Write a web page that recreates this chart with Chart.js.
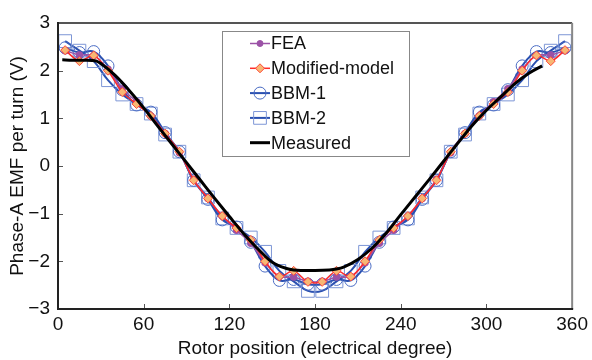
<!DOCTYPE html>
<html lang="en">
<head>
<meta charset="UTF-8">
<title>Phase-A EMF per turn</title>
<style>
  html, body { margin: 0; padding: 0; background: #fff; }
  #wrap { width: 592px; height: 360px; }
</style>
</head>
<body>
<div id="wrap"><canvas id="myChart" width="592" height="360"></canvas></div>

<script src="https://cdn.jsdelivr.net/npm/chart.js@4.4.0/dist/chart.umd.min.js"></script>
<script>
// rotor positions where the model markers sit (electrical degree)
var angles = [5, 15, 25, 35, 45, 55, 65, 75, 85,
              95, 105, 115, 125, 135, 145, 155, 165, 175,
              185, 195, 205, 215, 225, 235, 245, 255, 265,
              275, 285, 295, 305, 315, 325, 335, 345, 355];

var fea = [2.42, 2.33, 2.32, 2.03, 1.62, 1.35, 1.05, 0.68, 0.28,
           -0.28, -0.68, -1.05, -1.35, -1.62, -2.03, -2.32, -2.33, -2.42,
           -2.42, -2.33, -2.32, -2.03, -1.62, -1.35, -1.05, -0.68, -0.28,
           0.28, 0.68, 1.05, 1.35, 1.62, 2.03, 2.32, 2.33, 2.42];

var modified = [2.43, 2.2, 2.32, 2.0, 1.55, 1.3, 1.05, 0.68, 0.3,
                -0.3, -0.68, -1.05, -1.3, -1.55, -2.0, -2.32, -2.2, -2.43,
                -2.43, -2.2, -2.32, -2.0, -1.55, -1.3, -1.05, -0.68, -0.3,
                0.3, 0.68, 1.05, 1.3, 1.55, 2.0, 2.32, 2.2, 2.43];

var bbm1 = [2.48, 2.38, 2.4, 2.1, 1.6, 1.28, 1.13, 0.7, 0.3,
            -0.3, -0.7, -1.13, -1.28, -1.6, -2.1, -2.4, -2.38, -2.48,
            -2.48, -2.38, -2.4, -2.1, -1.6, -1.28, -1.13, -0.7, -0.3,
            0.3, 0.7, 1.13, 1.28, 1.6, 2.1, 2.4, 2.38, 2.48];

var bbm2 = [2.62, 2.42, 2.2, 1.8, 1.5, 1.3, 1.1, 0.66, 0.3,
            -0.3, -0.66, -1.1, -1.3, -1.5, -1.8, -2.2, -2.42, -2.62,
            -2.62, -2.42, -2.2, -1.8, -1.5, -1.3, -1.1, -0.66, -0.3,
            0.3, 0.66, 1.1, 1.3, 1.5, 1.8, 2.2, 2.42, 2.62];

// measured trace
var measuredX = [3, 10, 20, 27, 30, 40, 50, 60, 70, 80, 90, 100, 110, 120, 130, 140, 150, 160, 165, 170,
                 180, 190, 195, 200, 210, 220, 230, 240, 250, 260, 270, 280, 290, 300, 310, 320, 330, 339];
var measuredY = [2.23, 2.22, 2.22, 2.2, 2.15, 1.9, 1.58, 1.22, 0.83, 0.45, 0.07, -0.31, -0.69, -1.06, -1.42, -1.74, -2.02, -2.15, -2.18, -2.19,
                 -2.19, -2.18, -2.16, -2.12, -1.96, -1.72, -1.40, -1.02, -0.65, -0.28, 0.1, 0.48, 0.85, 1.17, 1.45, 1.73, 1.95, 2.1];

var xTicks = [0, 60, 120, 180, 240, 300, 360];
var yTicks = [-3, -2, -1, 0, 1, 2, 3];

var FONT = '"Liberation Sans", Arial, sans-serif';

function pts(ys) {
    return angles.map((a, i) => ({ x: a, y: ys[i] }));
}

var legendItems = [
    { label: 'FEA', line: '#9b52a6', width: 1.5, style: 'circle', r: 3, fill: '#9b52a6', stroke: '#9b52a6' },
    { label: 'Modified-model', line: '#ff2a2a', width: 1.5, style: 'rectRot', r: 4.5, fill: '#f7b774', stroke: '#ff4a3a' },
    { label: 'BBM-1', line: '#2a50b0', width: 2, style: 'circle', r: 6, fill: null, stroke: '#4a6cc4' },
    { label: 'BBM-2', line: '#2a50b0', width: 2, style: 'rect', r: 9, fill: null, stroke: '#7d96d6' },
    { label: 'Measured', line: '#000', width: 3, style: null }
];

var framePlugin = {
    id: 'frame',
    afterDraw(chart) {
        const { ctx, chartArea: a, scales } = chart;
        ctx.save();
        // inward tick marks
        ctx.strokeStyle = '#555';
        ctx.lineWidth = 1;
        xTicks.slice(1, -1).forEach(v => {
            const px = Math.round(scales.x.getPixelForValue(v)) + 0.5;
            ctx.beginPath(); ctx.moveTo(px, a.bottom); ctx.lineTo(px, a.bottom - 5); ctx.stroke();
        });
        yTicks.slice(1, -1).forEach(v => {
            const py = Math.round(scales.y.getPixelForValue(v)) + 0.5;
            ctx.beginPath(); ctx.moveTo(a.left, py); ctx.lineTo(a.left + 5, py); ctx.stroke();
        });
        // frame: dark left/bottom, grey top/right
        ctx.lineWidth = 2;
        ctx.strokeStyle = '#555';
        ctx.beginPath(); ctx.moveTo(a.left, a.top); ctx.lineTo(a.right, a.top); ctx.stroke();
        ctx.strokeStyle = '#888';
        ctx.beginPath(); ctx.moveTo(a.right, a.top); ctx.lineTo(a.right, a.bottom); ctx.stroke();
        ctx.strokeStyle = '#222';
        ctx.beginPath(); ctx.moveTo(a.left, a.top - 1); ctx.lineTo(a.left, a.bottom); ctx.lineTo(a.right + 1, a.bottom); ctx.stroke();

        // legend box
        const bx = 222, by = 31, bw = 187, bh = 125;
        ctx.fillStyle = '#fff';
        ctx.fillRect(bx, by, bw, bh);
        ctx.strokeStyle = '#888';
        ctx.lineWidth = 1;
        ctx.strokeRect(bx + 0.5, by + 0.5, bw, bh);
        ctx.font = '18px ' + FONT;
        ctx.textBaseline = 'middle';
        ctx.textAlign = 'left';
        legendItems.forEach((it, i) => {
            const y = 43.5 + i * 24.8;
            ctx.strokeStyle = it.line;
            ctx.lineWidth = it.width;
            ctx.beginPath(); ctx.moveTo(250, y); ctx.lineTo(270, y); ctx.stroke();
            if (it.style) {
                ctx.fillStyle = it.fill || 'rgba(0,0,0,0)';
                ctx.strokeStyle = it.stroke;
                ctx.lineWidth = 1;
                Chart.helpers.drawPoint(ctx, { pointStyle: it.style, radius: it.r, borderWidth: 1, rotation: 0 }, 260, y);
            }
            ctx.fillStyle = '#111';
            ctx.fillText(it.label, 271, y + 1);
        });
        ctx.restore();
    }
};

var ctx = document.getElementById('myChart');
var myChart = new Chart(ctx, {
    type: 'line',
    data: {
        datasets: [
            {
                label: 'Measured',
                data: measuredX.map((x, i) => ({ x: x, y: measuredY[i] })),
                borderColor: '#000',
                borderWidth: 3,
                pointRadius: 0,
                cubicInterpolationMode: 'monotone',
                order: 1
            },
            {
                label: 'Modified-model',
                data: pts(modified),
                borderColor: '#ff2a2a',
                borderWidth: 1.5,
                pointStyle: 'rectRot',
                pointRadius: 4.5,
                pointBackgroundColor: '#f7b774',
                pointBorderColor: '#ff4a3a',
                pointBorderWidth: 1,
                tension: 0.3,
                order: 2
            },
            {
                label: 'FEA',
                data: pts(fea),
                borderColor: '#9b52a6',
                borderWidth: 1.5,
                pointStyle: 'circle',
                pointRadius: 3,
                pointBackgroundColor: '#9b52a6',
                pointBorderColor: '#9b52a6',
                tension: 0.3,
                order: 3
            },
            {
                label: 'BBM-1',
                data: pts(bbm1),
                borderColor: '#2a50b0',
                borderWidth: 2,
                pointStyle: 'circle',
                pointRadius: 6,
                pointBackgroundColor: 'rgba(0,0,0,0)',
                pointBorderColor: '#4a6cc4',
                pointBorderWidth: 1,
                tension: 0.4,
                order: 4
            },
            {
                label: 'BBM-2',
                data: pts(bbm2),
                borderColor: '#2a50b0',
                borderWidth: 2,
                pointStyle: 'rect',
                pointRadius: 9,
                pointBackgroundColor: 'rgba(0,0,0,0)',
                pointBorderColor: '#7d96d6',
                pointBorderWidth: 1,
                tension: 0.4,
                order: 5
            }
        ]
    },
    options: {
        responsive: false,
        animation: false,
        layout: { padding: { top: 23, right: 16, left: 0, bottom: 0 } },
        plugins: { legend: { display: false }, tooltip: { enabled: false } },
        scales: {
            x: {
                type: 'linear',
                min: 0, max: 360,
                grid: { display: false, drawTicks: false },
                border: { display: false },
                afterBuildTicks: s => { s.ticks = xTicks.map(v => ({ value: v })); },
                afterFit: s => { s.height = 51; },
                ticks: { font: { family: FONT, size: 19 }, color: '#111', padding: 4, maxRotation: 0 },
                title: { display: true, text: 'Rotor position (electrical degree)', font: { family: FONT, size: 19 }, color: '#111', padding: { top: 0, bottom: 0 } }
            },
            y: {
                min: -3, max: 3,
                grid: { display: false, drawTicks: false },
                border: { display: false },
                afterBuildTicks: s => { s.ticks = yTicks.map(v => ({ value: v })); },
                afterFit: s => { s.width = 58; },
                ticks: {
                    font: { family: FONT, size: 19 }, color: '#111', padding: 8,
                    callback: v => v < 0 ? '\u2212' + Math.abs(v) : '' + v
                },
                title: { display: true, text: 'Phase-A EMF per turn (V)', font: { family: FONT, size: 19 }, color: '#111', padding: { top: 6, bottom: 0 } }
            }
        }
    },
    plugins: [framePlugin]
});
</script>
</body>
</html>
